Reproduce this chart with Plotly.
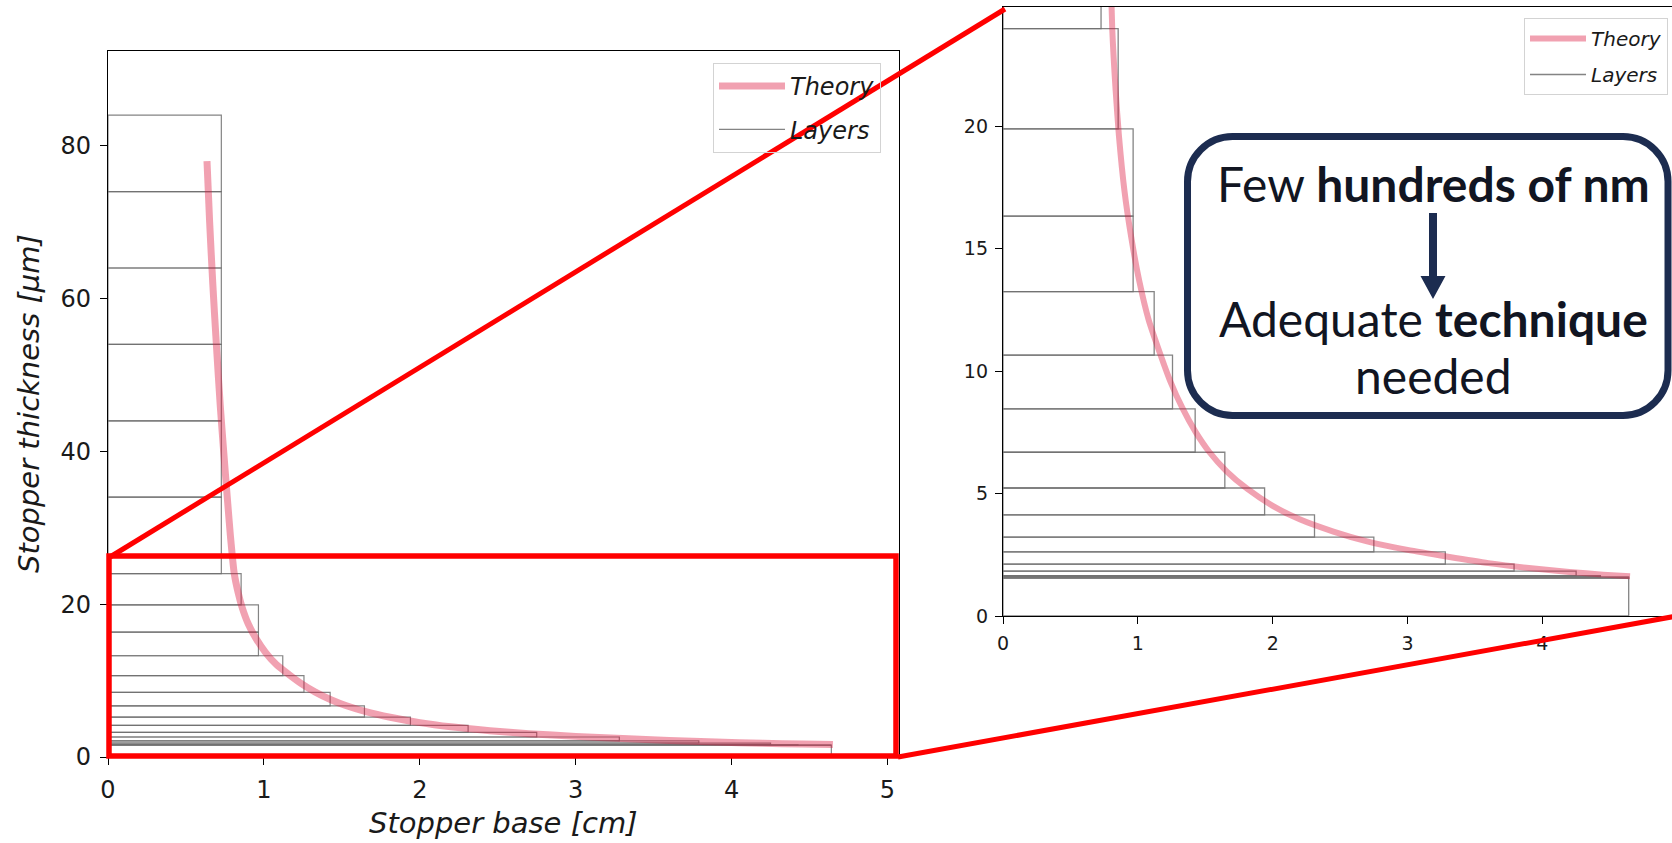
import plotly.graph_objects as go

W, H = 1672, 843

# Layer stack, bottom to top: upper edge of each layer [µm] and its base width [cm]
layer_tops = [1.55, 1.60, 1.65, 1.83, 2.12, 2.62, 3.22, 4.13, 5.23, 6.69, 8.46,
              10.66, 13.25, 16.34, 19.9, 24.0, 34.0, 44.0, 54.0, 64.0, 74.0, 84.0]
layer_widths = [4.64, 4.64, 4.43, 4.25, 3.79, 3.28, 2.75, 2.31, 1.94, 1.645, 1.425,
                1.257, 1.121, 0.965, 0.965, 0.854, 0.727, 0.727, 0.727, 0.727, 0.727, 0.727]

# Theoretical profile: base [cm] vs thickness [µm]
theory_base = [0.635, 0.652, 0.672, 0.695, 0.72, 0.742, 0.765, 0.785, 0.81, 0.835, 0.86,
               0.90, 0.95, 1.01, 1.08, 1.16, 1.24, 1.33, 1.43, 1.53, 1.66, 1.81, 2.0,
               2.2, 2.45, 2.7, 3.0, 3.3, 3.6, 3.9, 4.2, 4.45, 4.65]
theory_thick = [78.0, 70.0, 62.0, 54.0, 46.0, 40.0, 34.0, 29.0, 24.0, 21.5, 19.6,
                17.4, 15.5, 13.7, 12.1, 10.8, 9.6, 8.5, 7.5, 6.7, 5.9, 5.2, 4.5,
                3.95, 3.45, 3.05, 2.7, 2.42, 2.16, 1.96, 1.8, 1.69, 1.62]

left_xticks = [0, 1, 2, 3, 4, 5]
left_yticks = [0, 20, 40, 60, 80]
right_xticks = [0, 1, 2, 3, 4, 5]
right_yticks = [0, 5, 10, 15, 20]

PINK = "rgba(220,20,60,0.4)"
GRAY = "rgba(110,110,110,0.85)"
RED = "#ff0000"
NAVY = "#1c2c50"
INK = "#111522"
FONT = "DejaVu Sans"


def px(x):
    return x / W


def py(y):
    return 1 - y / H


# outline of every layer as a closed rectangle, separated by gaps
lx, ly = [], []
bottom = 0.0
for top, w in zip(layer_tops, layer_widths):
    lx += [0, w, w, 0, 0, None]
    ly += [bottom, bottom, top, top, bottom, None]
    bottom = top

fig = go.Figure()

for xa, ya, leg, lw_t, lw_l in [("x", "y", "legend", 7, 1.2), ("x2", "y2", "legend2", 6, 1.3)]:
    fig.add_trace(go.Scatter(
        x=lx, y=ly, mode="lines", name="Layers", xaxis=xa, yaxis=ya,
        line=dict(color=GRAY, width=lw_l), legend=leg, legendgroup="layers" + xa,
        legendrank=2, hoverinfo="skip"))
    fig.add_trace(go.Scatter(
        x=theory_base, y=theory_thick, mode="lines", name="Theory", xaxis=xa, yaxis=ya,
        line=dict(color=PINK, width=lw_t, shape="spline", smoothing=0.6),
        legend=leg, legendgroup="theory" + xa, legendrank=1))

axis_common = dict(showgrid=False, zeroline=False, showline=True, linecolor="black",
                   linewidth=1.4, ticks="outside", ticklen=7, tickwidth=1.2,
                   tickcolor="black", automargin=False)

# left: full stack; right: magnified lower part
L_x0, L_x1, L_y0, L_y1 = 108, 899, 51, 757
R_x0, R_y0, R_y1 = 1003, 7, 616

fig.update_layout(
    template="none",
    width=W, height=H, margin=dict(l=0, r=0, t=0, b=0, pad=0, autoexpand=False),
    paper_bgcolor="white", plot_bgcolor="white",
    xaxis=dict(domain=[px(L_x0), px(L_x1)], range=[0, 5.074], anchor="y", mirror=True,
               tickvals=left_xticks, tickfont=dict(family=FONT, size=24, color="#1a1a1a"),
               ticklabelstandoff=4, **axis_common),
    yaxis=dict(domain=[py(L_y1), py(L_y0)], range=[0, 92.4], anchor="x", mirror=True,
               tickvals=left_yticks, tickfont=dict(family=FONT, size=24, color="#1a1a1a"),
               ticklabelstandoff=4, **axis_common),
    xaxis2=dict(domain=[px(R_x0), 1.0], range=[0, (W - R_x0) / 134.85], anchor="y2",
                mirror=True, tickvals=right_xticks,
                tickfont=dict(family=FONT, size=19, color="#1a1a1a"),
                ticklabelstandoff=3, **axis_common),
    yaxis2=dict(domain=[py(R_y1), py(R_y0)], range=[0, 24.88], anchor="x2", mirror=False,
                tickvals=right_yticks, tickfont=dict(family=FONT, size=19, color="#1a1a1a"),
                ticklabelstandoff=3, **axis_common),
    legend=dict(x=px(713), y=py(63), xanchor="left", yanchor="top",
                bgcolor="rgba(255,255,255,0)", bordercolor="#d3d3d3", borderwidth=1,
                font=dict(family=FONT, size=24, style="italic", color="#1a1a1a"),
                tracegroupgap=9, itemwidth=66),
    legend2=dict(x=px(1524), y=py(18), xanchor="left", yanchor="top",
                 bgcolor="rgba(255,255,255,0)", bordercolor="#d3d3d3", borderwidth=1,
                 font=dict(family=FONT, size=20, style="italic", color="#1a1a1a"),
                 tracegroupgap=7, itemwidth=56),
    showlegend=True,
)

# axis titles of the full-stack panel
fig.add_annotation(x=px(503), y=py(823), xref="paper", yref="paper", showarrow=False,
                   text="Stopper base [cm]", xanchor="center", yanchor="middle",
                   font=dict(family=FONT, size=29, style="italic", color="#1a1a1a"))
fig.add_annotation(x=px(29), y=py(404), xref="paper", yref="paper", showarrow=False,
                   text="Stopper thickness [μm]", textangle=-90,
                   xanchor="center", yanchor="middle",
                   font=dict(family=FONT, size=29, style="italic", color="#1a1a1a"))

# magnification frame and connectors
fig.add_shape(type="rect", xref="paper", yref="paper",
              x0=px(109), x1=px(896), y0=py(756), y1=py(556),
              line=dict(color=RED, width=5.5), layer="above")
fig.add_shape(type="line", xref="paper", yref="paper",
              x0=px(110), y0=py(557), x1=px(1005), y1=py(9),
              line=dict(color=RED, width=5), layer="above")
fig.add_shape(type="line", xref="paper", yref="paper",
              x0=px(898), y0=py(757), x1=px(1677), y1=py(616),
              line=dict(color=RED, width=5), layer="above")


def rounded_rect_path(x0, y0, x1, y1, r):
    k = 0.5523 * r
    pts = [
        ("M", [(x0 + r, y0)]),
        ("L", [(x1 - r, y0)]),
        ("C", [(x1 - r + k, y0), (x1, y0 + r - k), (x1, y0 + r)]),
        ("L", [(x1, y1 - r)]),
        ("C", [(x1, y1 - r + k), (x1 - r + k, y1), (x1 - r, y1)]),
        ("L", [(x0 + r, y1)]),
        ("C", [(x0 + r - k, y1), (x0, y1 - r + k), (x0, y1 - r)]),
        ("L", [(x0, y0 + r)]),
        ("C", [(x0, y0 + r - k), (x0 + r - k, y0), (x0 + r, y0)]),
    ]
    out = []
    for cmd, ps in pts:
        out.append(cmd + " " + " ".join(f"{px(a):.5f},{py(b):.5f}" for a, b in ps))
    return " ".join(out) + " Z"


# callout box
fig.add_shape(type="path", xref="paper", yref="paper",
              path=rounded_rect_path(1187.5, 136.5, 1668, 415.5, 45),
              line=dict(color=NAVY, width=7), fillcolor="white", layer="above")

# downward arrow inside the callout
ax = 1433
arrow_pts = [(ax - 4, 213), (ax + 4, 213), (ax + 4, 276), (ax + 12.5, 276),
             (ax, 299), (ax - 12.5, 276), (ax - 4, 276)]
arrow_path = "M " + " L ".join(f"{px(a):.5f},{py(b):.5f}" for a, b in arrow_pts) + " Z"
fig.add_shape(type="path", xref="paper", yref="paper", path=arrow_path,
              line=dict(color=NAVY, width=0), fillcolor=NAVY, layer="above")

callout_font = dict(family="Lato", size=48, color=INK)
for text, yc in [("Few <b>hundreds of nm</b>", 184),
                 ("Adequate <b>technique</b>", 318),
                 ("needed", 375)]:
    fig.add_annotation(x=px(ax), y=py(yc), xref="paper", yref="paper", showarrow=False,
                       text=text, xanchor="center", yanchor="middle", font=callout_font)

fig.write_html("out.html")
